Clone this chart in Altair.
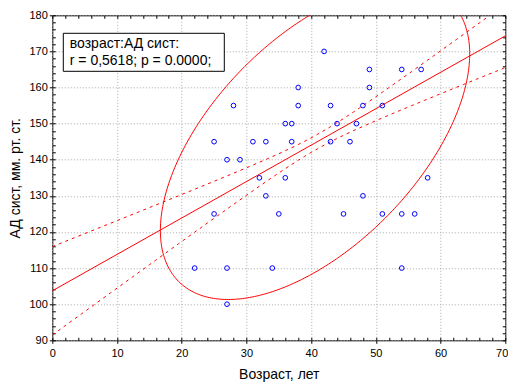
import altair as alt
import numpy as np
import pandas as pd

# ---- scatter data ----
age = [22, 25, 25, 27, 27, 27, 28, 29, 31, 32, 33, 33, 34, 35, 36, 36, 37, 37, 38, 38,
       42, 43, 43, 44, 45, 46, 47, 48, 48, 49, 49, 51, 51, 54, 54, 54, 56, 57, 58]
bp = [110, 125, 145, 100, 110, 140, 155, 140, 145, 135, 130, 145, 110, 125, 135, 150, 145, 150, 155, 160,
      170, 145, 155, 150, 125, 145, 150, 130, 155, 160, 165, 125, 155, 110, 125, 165, 125, 165, 135]

# ---- fitted overlays (parameters) ----
reg_x = [0, 70]
reg_y = [103.7, 174.3]          # regression line end values
band_center = 41.0              # x where the 95% band is narrowest
band_a = 4.0                    # squared half-width at the centre
band_b = 0.0868                 # growth of squared half-width
ell_mx, ell_my = 40.6, 144.85   # ellipse centre
ell_ax, ell_by = 23.9, 43.55    # half extents in x and y
r_val = 0.5618

x_ticks = list(range(0, 71, 10))
y_ticks = list(range(90, 181, 10))
x_minor = list(range(0, 71, 2))
y_minor = list(range(90, 181, 2))

annot_lines = ["возраст:АД сист:", "r = 0,5618; p = 0.0000;"]

# ---- build tables ----
pts = pd.DataFrame({"age": age, "bp": bp})
reg = pd.DataFrame({"x": reg_x, "y": reg_y})

slope = (reg_y[1] - reg_y[0]) / (reg_x[1] - reg_x[0])
xs = np.linspace(0, 70, 141)
fit = reg_y[0] + slope * xs
half = np.sqrt(band_a + band_b * (xs - band_center) ** 2)
ci = pd.concat([
    pd.DataFrame({"x": xs, "y": fit + half, "band": "upper"}),
    pd.DataFrame({"x": xs, "y": fit - half, "band": "lower"}),
])

t = np.linspace(0, 2 * np.pi, 361)
ell = pd.DataFrame({
    "t": np.arange(len(t)),
    "x": ell_mx + ell_ax * np.cos(t),
    "y": ell_my + ell_by * (r_val * np.cos(t) + np.sqrt(1 - r_val ** 2) * np.sin(t)),
})

one = pd.DataFrame({"k": [0]})

FONT = "Liberation Sans"
GRID = "#a8a8a8"
W, H = 453, 325

xs_scale = alt.Scale(domain=[0, 70], nice=False, zero=False)
ys_scale = alt.Scale(domain=[90, 180], nice=False, zero=False)

main_x_axis = alt.Axis(values=x_ticks, orient="bottom", title="Возраст, лет",
                       grid=True, gridColor=GRID, gridDash=[1, 2], gridWidth=1,
                       domain=False, tickSize=3, tickColor="black", labelPadding=4,
                       labelFlush=False, labelFont=FONT, labelFontSize=11, labelColor="black",
                       labelAlign=alt.condition("datum.value >= 70", alt.value("right"), alt.value("center")),
                       labelOffset=alt.condition("datum.value >= 70", alt.value(2.5), alt.value(0)),
                       titleFont=FONT, titleFontSize=14, titleFontWeight="normal",
                       titleColor="black", titleX=W / 2, titleY=38, titleAlign="center",
                       titleBaseline="alphabetic")
main_y_axis = alt.Axis(values=y_ticks, orient="left", title="АД сист, мм. рт. ст.",
                       grid=True, gridColor=GRID, gridDash=[1, 2], gridWidth=1,
                       domain=False, tickSize=3, tickColor="black", labelPadding=2,
                       labelFlush=False, labelFont=FONT, labelFontSize=11, labelColor="black",
                       titleFont=FONT, titleFontSize=14, titleFontWeight="normal",
                       titleColor="black", titleX=-33, titleY=H / 2, titleAlign="center",
                       titleAngle=270, titleBaseline="alphabetic")


def minor_axis(vals, orient):
    return alt.Axis(values=vals, orient=orient, labels=False, domain=False, grid=False,
                    tickSize=3, tickColor="black", offset=-3, title="")


ellipse = alt.Chart(ell).mark_line(color="#ff0000", strokeWidth=1, clip=True).encode(
    x=alt.X("x:Q", scale=xs_scale, axis=main_x_axis),
    y=alt.Y("y:Q", scale=ys_scale, axis=main_y_axis),
    order="t:Q",
)

bands = alt.Chart(ci).mark_line(color="#ff0000", strokeWidth=1, strokeDash=[3, 4], clip=True).encode(
    x=alt.X("x:Q", scale=xs_scale, axis=minor_axis(x_minor, "top")),
    y=alt.Y("y:Q", scale=ys_scale, axis=minor_axis(y_minor, "right")),
    detail="band:N",
)

regline = alt.Chart(reg).mark_line(color="#ff0000", strokeWidth=1, clip=True).encode(
    x=alt.X("x:Q", scale=xs_scale, axis=minor_axis(x_minor, "bottom")),
    y=alt.Y("y:Q", scale=ys_scale, axis=minor_axis(y_minor, "left")),
)

points = alt.Chart(pts).mark_point(shape="circle", filled=False, color="#0000ff",
                                   size=22, strokeWidth=1, opacity=1).encode(
    x=alt.X("age:Q", scale=xs_scale, axis=None),
    y=alt.Y("bp:Q", scale=ys_scale, axis=None),
)

box = alt.Chart(one).mark_rect(fill="white", stroke="black", strokeWidth=1).encode(
    x=alt.value(11), x2=alt.value(172), y=alt.value(18), y2=alt.value(56),
)

label = alt.Chart(one).mark_text(align="left", baseline="alphabetic", font=FONT,
                                 fontSize=14, lineHeight=16.7, color="black",
                                 text=annot_lines).encode(
    x=alt.value(17.5), y=alt.value(33),
)

chart = alt.layer(ellipse, bands, regline, points, box, label).resolve_axis(
    x="independent", y="independent"
).properties(
    width=W, height=H,
    autosize=alt.AutoSizeParams(type="none"),
    padding={"left": 44.3, "top": 7.3, "right": 2.5, "bottom": 43},
    background="white",
).configure_view(stroke="black", strokeWidth=1)

chart.save("out.html", embed_options={"renderer": "svg", "actions": False})
